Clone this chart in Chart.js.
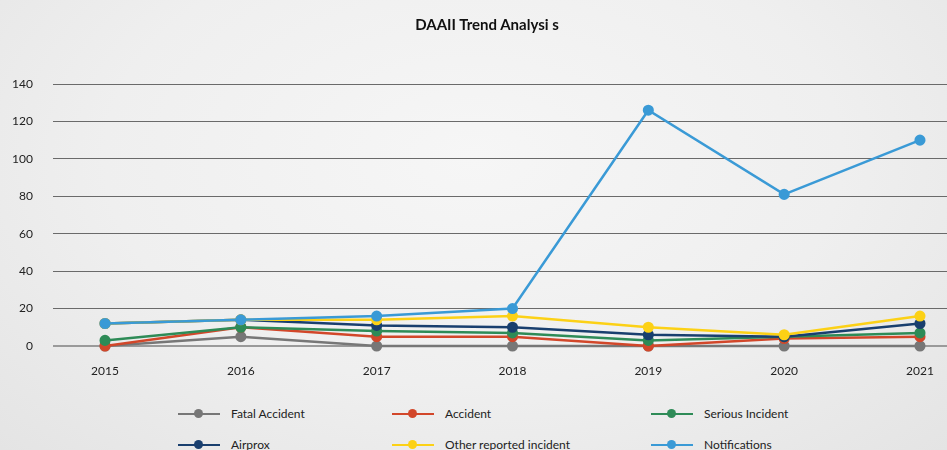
<!DOCTYPE html>
<html>
<head>
<meta charset="utf-8">
<script src="https://cdn.jsdelivr.net/npm/chart.js@4.4.1/dist/chart.umd.min.js"></script>
<style>
  html, body { margin: 0; padding: 0; }
  body {
    width: 947px; height: 450px; overflow: hidden; position: relative;
    background: radial-gradient(ellipse at 50% 35%, #f6f6f6 0%, #efefef 55%, #e4e4e4 100%);
    font-family: Lato, "Open Sans", sans-serif;
  }
  .wrap { position: absolute; left: 0; top: 0; width: 947px; height: 390px; }
  #titulo {
    position: absolute; left: 0; top: 15px; width: 974px; text-align: center;
    font-size: 15px; font-weight: bold; color: #111; line-height: 18px;
  }
  #legend { position: absolute; left: 0; top: 400px; width: 947px; height: 50px; }
  .item { position: absolute; display: flex; align-items: center; font-size: 12px; color: #222; }
  .sw { position: relative; width: 42px; height: 12px; margin-right: 11px; }
  .sw .ln { position: absolute; left: 0; right: 0; top: 5px; height: 2.5px; }
  .sw .dt { position: absolute; left: 16px; top: 1.5px; width: 9px; height: 9px; border-radius: 50%; }
</style>
</head>
<body>
<div class="wrap"><canvas id="grafico" width="947" height="390"></canvas></div>
<div id="titulo">DAAII Trend Analysi s</div>
<div id="legend"></div>
<script>
const years = [2015, 2016, 2017, 2018, 2019, 2020, 2021];
const fatalAccident = [0, 5, 0, 0, 0, 0, 0];
const accident = [0, 10, 5, 5, 0, 4, 5];
const seriousIncident = [3, 10, 8, 7, 3, 5, 7];
const airprox = [12, 14, 11, 10, 6, 5, 12];
const otherReported = [12, 14, 14, 16, 10, 6, 16];
const notifications = [12, 14, 16, 20, 126, 81, 110];
const yTicks = [0, 20, 40, 60, 80, 100, 120, 140];

const series = [
  { label: "Fatal Accident", data: fatalAccident, color: "#777777" },
  { label: "Accident", data: accident, color: "#d2472a" },
  { label: "Serious Incident", data: seriousIncident, color: "#2e8b57" },
  { label: "Airprox", data: airprox, color: "#193f6e" },
  { label: "Other reported incident", data: otherReported, color: "#fcd116" },
  { label: "Notifications", data: notifications, color: "#3a9ad6" },
];

const ctx = document.getElementById("grafico").getContext("2d");
const grafico = new Chart(ctx, {
  type: "line",
  data: {
    datasets: series.map((s, i) => ({
      label: s.label,
      data: s.data.map((v, j) => ({ x: years[j], y: v })),
      borderColor: s.color,
      backgroundColor: s.color,
      borderWidth: 2.5,
      pointRadius: 4.3,
      pointHoverRadius: 5,
      tension: 0,
      clip: false,
      order: series.length - i, // later series on top, like the original
    })),
  },
  options: {
    responsive: false,
    animation: false,
    layout: { autoPadding: false, padding: { left: 0, right: 0, top: 84, bottom: 0 } },
    plugins: {
      legend: { display: false },
      tooltip: { enabled: false },
      title: { display: false },
    },
    scales: {
      x: {
        type: "linear",
        min: 2014.617,
        max: 2021.199,
        afterBuildTicks: (scale) => {
          scale.ticks = years.map((y) => ({ value: y }));
        },
        afterFit: (scale) => {
          scale.height = 44;
          scale.paddingLeft = 0;
          scale.paddingRight = 0;
        },
        ticks: {
          callback: (v) => String(v),
          color: "#222",
          font: { family: "Lato", size: 12 },
          padding: 10,
          maxRotation: 0,
        },
        grid: { display: false },
        border: { display: false },
      },
      y: {
        min: 0,
        max: 140,
        afterBuildTicks: (scale) => {
          scale.ticks = yTicks.map((v) => ({ value: v }));
        },
        afterFit: (scale) => {
          scale.width = 53;
          scale.paddingTop = 0;
          scale.paddingBottom = 0;
        },
        ticks: {
          color: "#222",
          font: { family: "Lato", size: 12 },
          padding: 20,
        },
        grid: {
          color: (c) => (c.tick && c.tick.value === 0 ? "#9a9a9a" : "#6a6a6a"),
          lineWidth: (c) => (c.tick && c.tick.value === 0 ? 2 : 1),
          drawTicks: false,
        },
        border: { display: false },
      },
    },
  },
});

// legend in Excel-like fixed columns
const colX = [178, 392, 651];
const rowY = [6, 37];
const legend = document.getElementById("legend");
series.forEach((s, i) => {
  const el = document.createElement("div");
  el.className = "item";
  el.style.left = colX[i % 3] + "px";
  el.style.top = rowY[Math.floor(i / 3)] + "px";
  el.innerHTML =
    '<span class="sw"><span class="ln" style="background:' + s.color +
    '"></span><span class="dt" style="background:' + s.color +
    '"></span></span><span>' + s.label + "</span>";
  legend.appendChild(el);
});
</script>
</body>
</html>
